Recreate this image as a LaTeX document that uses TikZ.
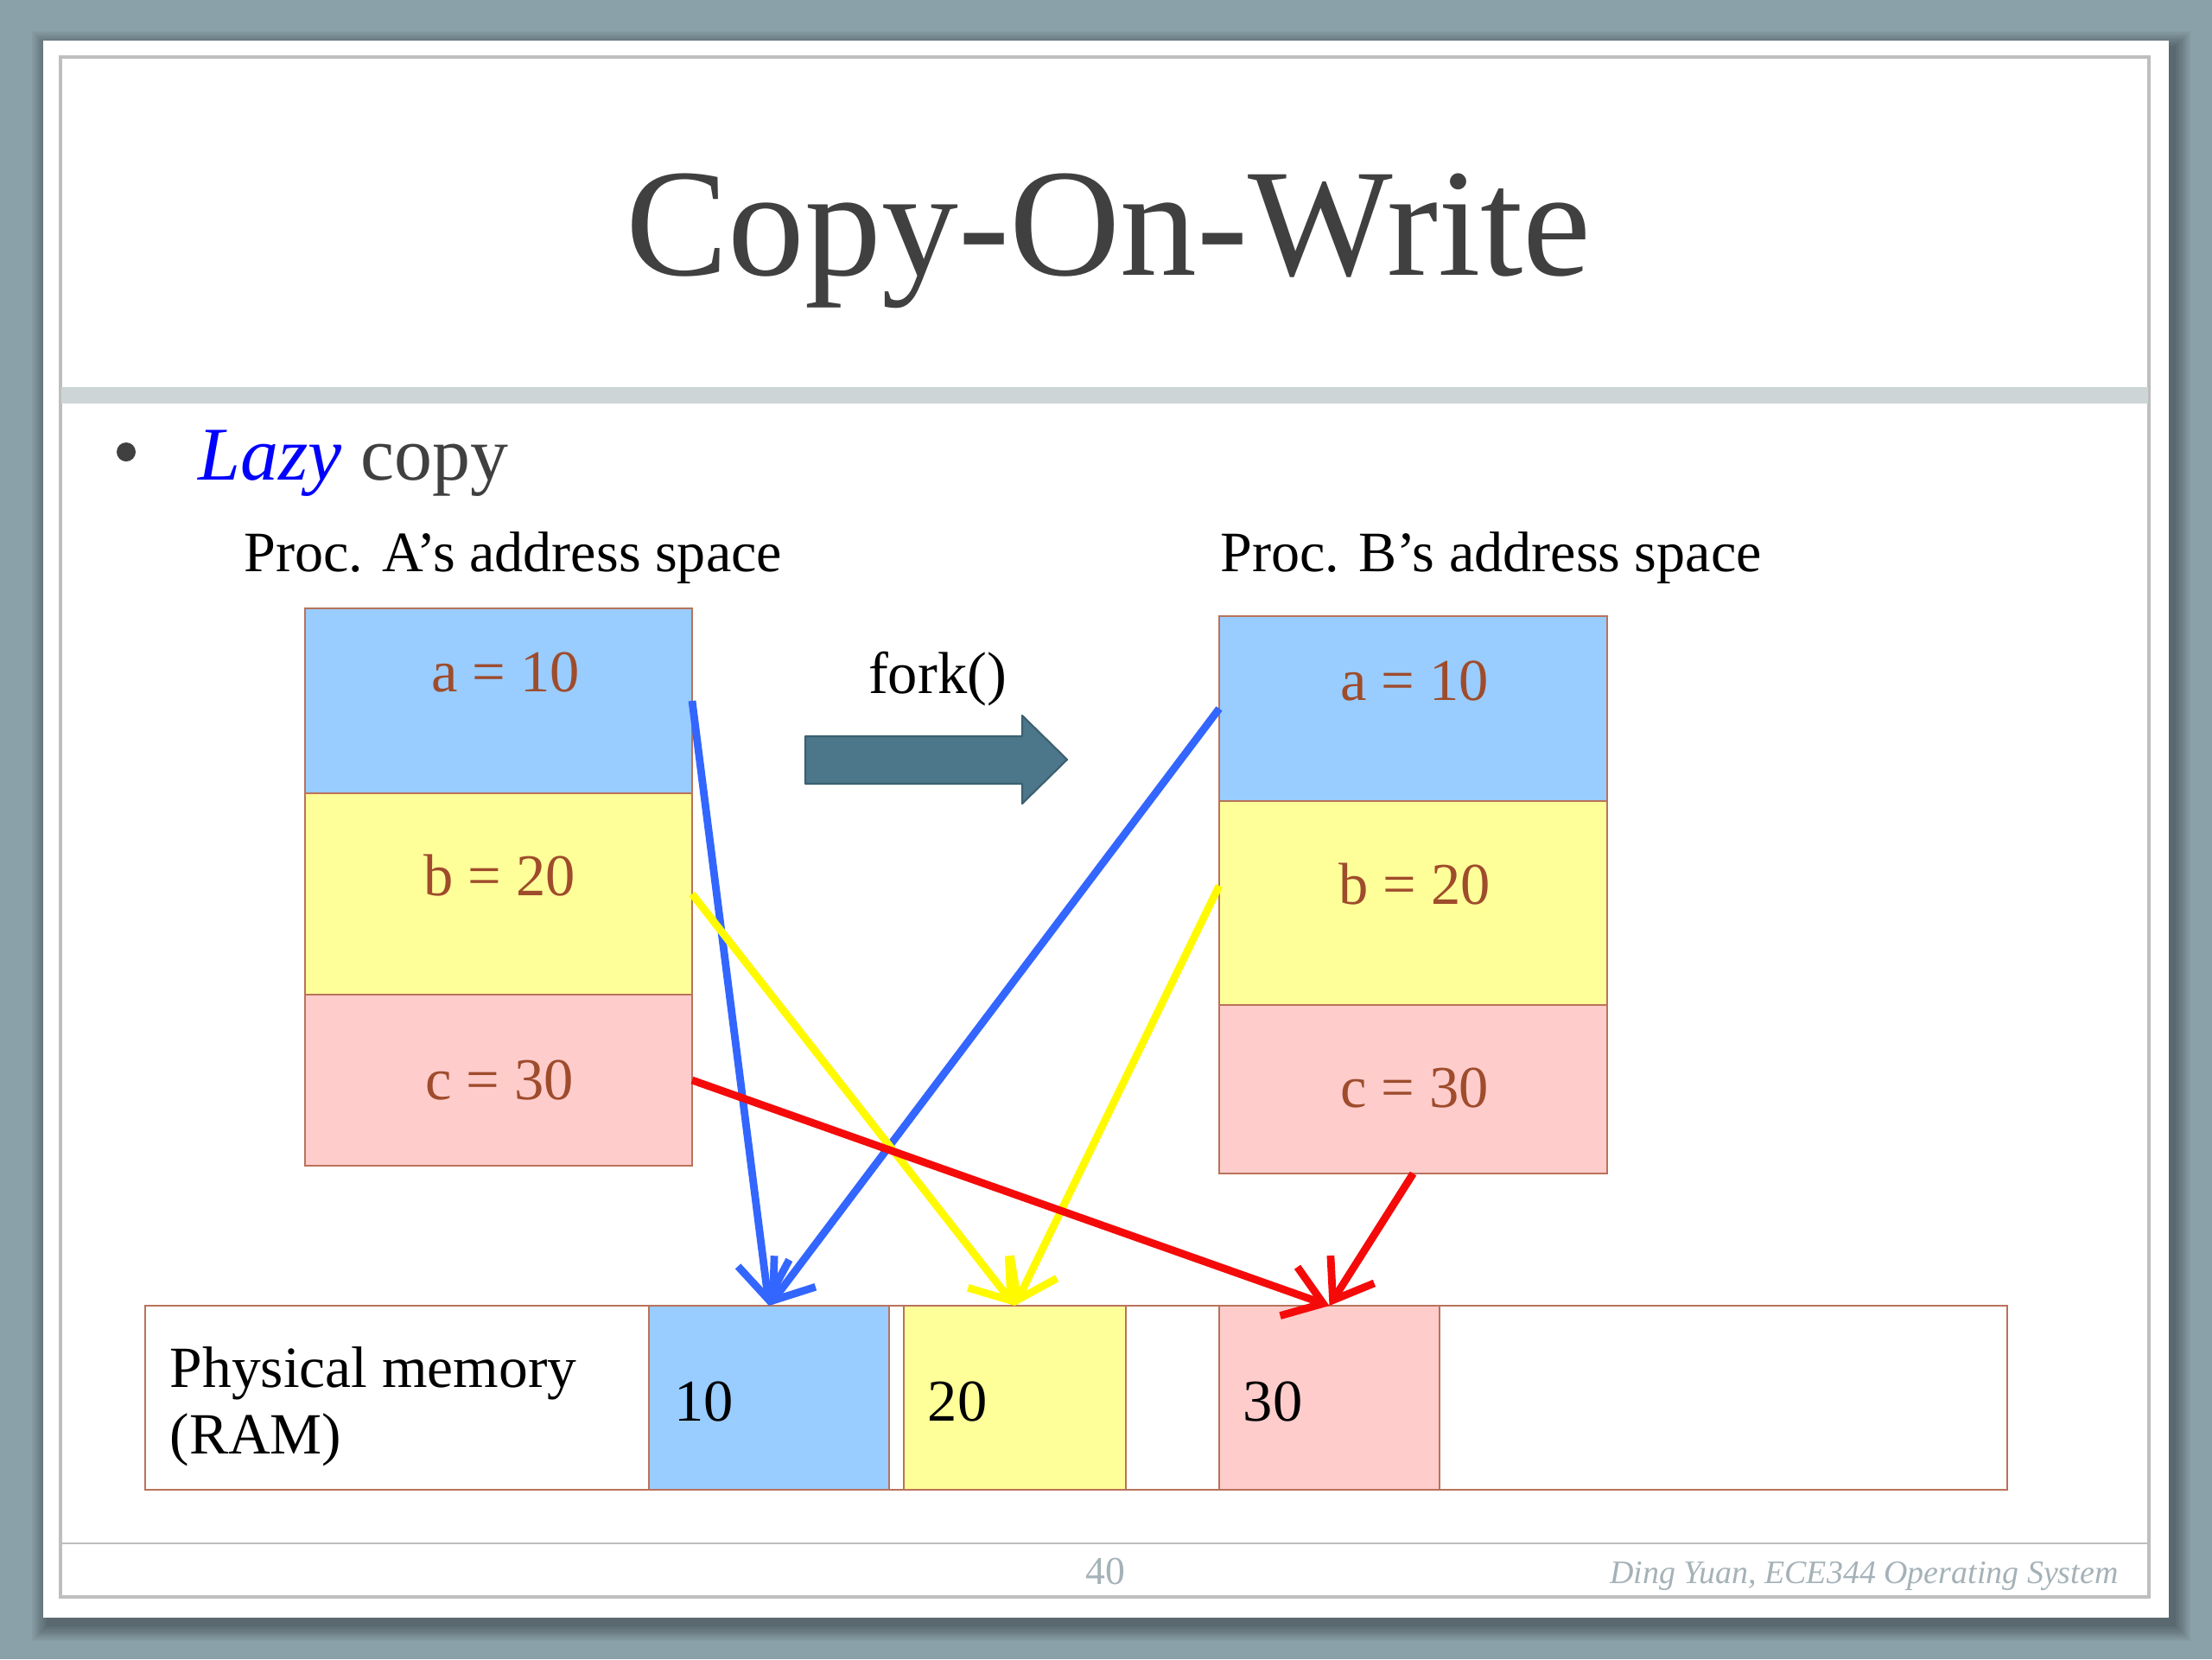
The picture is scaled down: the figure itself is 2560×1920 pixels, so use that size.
\documentclass[tikz,border=0pt]{standalone}
\usepackage{fontspec}
\setmainfont{Liberation Serif}
\usetikzlibrary{arrows.meta,fit}
\definecolor{bgslate}{RGB}{139,161,169}
\definecolor{framegray}{RGB}{190,190,190}
\definecolor{bandgray}{RGB}{205,213,215}
\definecolor{titlegray}{RGB}{64,64,64}
\definecolor{cellblue}{RGB}{153,204,255}
\definecolor{cellyellow}{RGB}{255,255,153}
\definecolor{cellpink}{RGB}{255,204,204}
\definecolor{cellborder}{RGB}{185,115,90}
\definecolor{valbrown}{RGB}{158,76,44}
\definecolor{forkfill}{RGB}{76,118,137}
\definecolor{forkedge}{RGB}{60,96,112}
\definecolor{arrblue}{RGB}{51,102,255}
\definecolor{arryellow}{RGB}{255,250,0}
\definecolor{arrred}{RGB}{245,10,10}
\definecolor{footgray}{RGB}{165,178,184}
\tikzset{
  cell/.style={draw=cellborder, line width=0.8pt, inner sep=0pt, outer sep=0pt},
  val/.style={anchor=base, text=valbrown, font=\fontsize{19.5}{23}\selectfont},
  memval/.style={anchor=base west, text=black, font=\fontsize{19.5}{23}\selectfont},
  lbl/.style={anchor=base west, text=black, font=\fontsize{18.8}{23}\selectfont},
  ptr/.style={line width=2.5pt, -{Straight Barb[length=12pt,width=17pt]}},
}
\begin{document}
\begin{tikzpicture}[x=0.01cm,y=-0.01cm]
\useasboundingbox (0,0) rectangle (2560,1920);
\fill[bgslate] (0,0) rectangle (2560,1920);
% slide shadow
\foreach \i in {1,...,12}
  \fill[black,opacity=0.03] ({50-\i*1.6+6},{47-\i*1.6+8}) rectangle ({2510+\i*1.6+6},{1872+\i*1.6+8});
% slide
\fill[white] (50,47) rectangle (2510,1872);
\draw[framegray, line width=0.9pt] (70,66) rectangle (2487,1848);
\fill[bandgray] (71,448) rectangle (2486,467);
\draw[framegray, line width=0.6pt] (70,1786) -- (2487,1786);

% title
\node[anchor=base, text=titlegray, font=\fontsize{50.5}{60}\selectfont] (title) at (1283,318) {Copy-On-Write};
% bullet
\fill[titlegray] (146,523) circle (11);
\node[anchor=base west, inner sep=0pt, font=\fontsize{25}{30}\selectfont] (lazy) at (229,555)
  {\textcolor{blue}{\itshape Lazy} \textcolor{titlegray}{copy}};

% labels
\node[lbl, inner sep=0pt] (labA) at (282,661) {Proc. A’s address space};
\node[lbl, inner sep=0pt] (labB) at (1412,661) {Proc. B’s address space};

% process A
\node[cell, fill=cellblue,   fit={(353,704) (801,918)}]  (Aa) {};
\node[cell, fill=cellyellow, fit={(353,918) (801,1151)}] (Ab) {};
\node[cell, fill=cellpink,   fit={(353,1151) (801,1349)}] (Ac) {};
\node[val] (Aatxt) at (585,800) {a = 10};
\node[val] (Abtxt) at (578,1036) {b = 20};
\node[val] (Actxt) at (578,1272) {c = 30};

% process B
\node[cell, fill=cellblue,   fit={(1411,713) (1860,927)}]  (Ba) {};
\node[cell, fill=cellyellow, fit={(1411,927) (1860,1163)}] (Bb) {};
\node[cell, fill=cellpink,   fit={(1411,1163) (1860,1358)}] (Bc) {};
\node[val] (Batxt) at (1637,810) {a = 10};
\node[val] (Bbtxt) at (1637,1046) {b = 20};
\node[val] (Bctxt) at (1637,1281) {c = 30};

% fork
\node[anchor=base, font=\fontsize{19.5}{23}\selectfont] (fork) at (1085,802) {fork()};
\filldraw[fill=forkfill, draw=forkedge, line width=0.6pt, line join=round]
  (932,852) -- (1183,852) -- (1183,828) -- (1235,879) -- (1183,930) -- (1183,907) -- (932,907) -- cycle;

% physical memory
\node[cell, fill=white, fit={(168,1511) (2323,1724)}] (mem) {};
\node[cell, fill=cellblue,   fit={(751,1511) (1029,1724)}]  (m1) {};
\node[cell, fill=cellyellow, fit={(1046,1511) (1303,1724)}] (m2) {};
\node[cell, fill=cellpink,   fit={(1411,1511) (1666,1724)}] (m3) {};
\node[lbl, inner sep=0pt, font=\fontsize{19.2}{23}\selectfont] (memlab1) at (196,1605) {Physical memory};
\node[lbl, inner sep=0pt, font=\fontsize{19.2}{23}\selectfont] (memlab2) at (196,1682) {(RAM)};
\node[memval, inner sep=0pt] (m1t) at (780,1644) {10};
\node[memval, inner sep=0pt] (m2t) at (1073,1644) {20};
\node[memval, inner sep=0pt] (m3t) at (1438,1644) {30};

% pointers
\draw[ptr, arrblue] (Aa.east) -- (m1.north);
\draw[ptr, arrblue] (Ba.west) -- (m1.north);
\draw[ptr, arryellow] (Ab.east) -- (m2.north);
\draw[ptr, arryellow] ([yshift=0.2cm]Bb.west) -- (m2.north);
\draw[ptr, arrred] (Ac.east) -- (m3.north);
\draw[ptr, arrred] (Bc.south) -- (m3.north);

% footer
\node[anchor=base, text=footgray, font=\fontsize{13}{15}\selectfont] (pnum) at (1279,1833) {40};
\node[anchor=base east, text=footgray, font=\fontsize{10.8}{14}\selectfont\itshape] (foot) at (2464,1832) {Ding Yuan, ECE344 Operating System};
\end{tikzpicture}
\end{document}
